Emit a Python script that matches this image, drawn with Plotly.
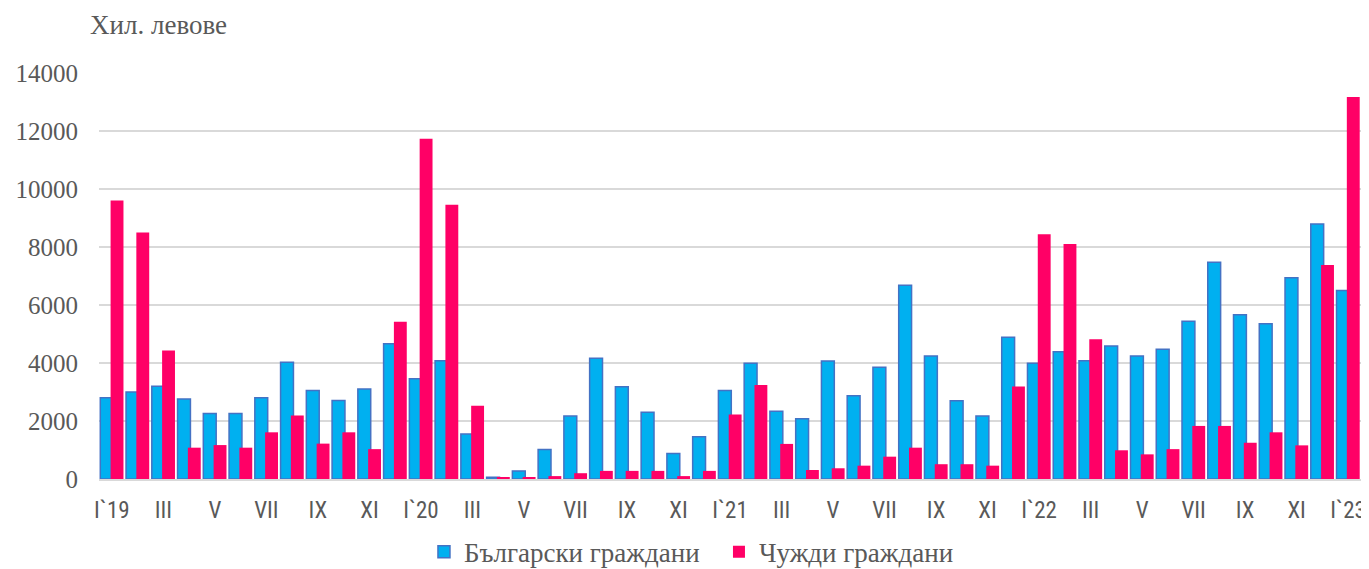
import plotly.graph_objects as go

months = ["I`19","II","III","IV","V","VI","VII","VIII","IX","X","XI","XII",
          "I`20","II","III","IV","V","VI","VII","VIII","IX","X","XI","XII",
          "I`21","II","III","IV","V","VI","VII","VIII","IX","X","XI","XII",
          "I`22","II","III","IV","V","VI","VII","VIII","IX","X","XI","XII",
          "I`23"]

bulgarian = [2800, 3000, 3200, 2760, 2260, 2260, 2800, 4030, 3050, 2710, 3100, 4660,
             3460, 4080, 1550, 60, 280, 1020, 2170, 4160, 3180, 2300, 880, 1460,
             3050, 3990, 2340, 2080, 4070, 2870, 3850, 6680, 4240, 2700, 2170, 4890,
             3990, 4390, 4080, 4590, 4240, 4470, 5440, 7470, 5660, 5350, 6940, 8790,
             6500]

foreign = [9600, 8500, 4430, 1080, 1170, 1080, 1610, 2190, 1220, 1610, 1030, 5420,
           11730, 9460, 2530, 50, 50, 100, 200, 280, 280, 280, 100, 280,
           2220, 3240, 1210, 310, 370, 460, 770, 1080, 510, 510, 460, 3190,
           8440, 8100, 4820, 990, 850, 1030, 1830, 1830, 1250, 1610, 1160, 7380,
           13170]

x_idx = list(range(len(months)))
tick_vals = x_idx[::2]
tick_text = months[::2]

fig = go.Figure()
fig.add_trace(go.Bar(
    x=x_idx, y=bulgarian, name="Български граждани",
    width=0.5, offset=-0.45,
    marker=dict(color="#00B0F0", line=dict(color="#4472C4", width=1.5)),
))
fig.add_trace(go.Bar(
    x=x_idx, y=foreign, name="Чужди граждани",
    width=0.5, offset=-0.05,
    marker=dict(color="#FF0066", line=dict(width=0)),
))

serif = "Times New Roman, Liberation Serif, DejaVu Serif, serif"
narrow = "Liberation Sans Narrow, Arial Narrow, Roboto Condensed, Liberation Sans, sans-serif"

# page body has an 8px margin, so the figure is sized to fill the rest of the window
fig.update_layout(
    width=1361, height=561,
    barmode="overlay",
    plot_bgcolor="white", paper_bgcolor="white",
    margin=dict(l=91, r=8, t=65, b=90, autoexpand=False),
    showlegend=True,
    legend=dict(orientation="h", x=0.2575, xanchor="left",
                yref="container", y=0.03, yanchor="middle",
                font=dict(family=serif, size=27, color="#595959"),
                itemwidth=30, traceorder="normal", entrywidth=250),
    annotations=[dict(text="Хил. левове", xref="paper", yref="paper",
                      x=-0.0087, y=1.118, xanchor="left", yanchor="middle",
                      showarrow=False,
                      font=dict(family=serif, size=27, color="#595959"))],
)
fig.update_xaxes(
    range=[-0.5, 48.5], tickmode="array", tickvals=tick_vals, ticktext=tick_text,
    showgrid=False, showline=True, linecolor="#D9D9D9", linewidth=1.5,
    ticks="", ticklabelstandoff=10, automargin=False,
    tickfont=dict(family=narrow, size=23, color="#595959"),
)
fig.update_yaxes(
    range=[0, 14000], dtick=2000, tickformat="d", showgrid=True,
    gridcolor="#D9D9D9", gridwidth=1.5,
    zeroline=False, showline=False, ticks="", ticklabelstandoff=20, automargin=False,
    tickfont=dict(family=serif, size=25, color="#595959"),
)

fig.write_html("out.html")
